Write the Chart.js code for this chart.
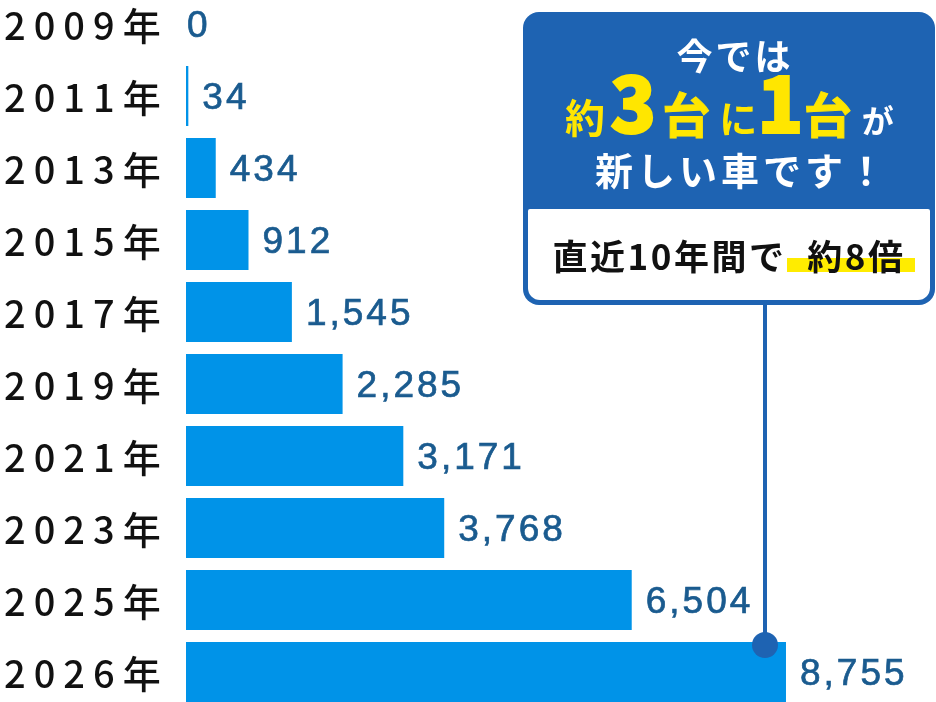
<!DOCTYPE html>
<html lang="ja">
<head>
<meta charset="utf-8">
<script src="https://cdn.jsdelivr.net/npm/chart.js@4"></script>
<style>
  html, body { margin: 0; padding: 0; background: #fff; }
  body { width: 936px; height: 702px; overflow: hidden; position: relative; font-family: "Noto Sans CJK JP", sans-serif; }
  #wrap { position: absolute; left: 0; top: -12px; width: 936px; height: 720px; }
  #callout { position: absolute; left: 523px; top: 12px; width: 412px; height: 293px; background: #1e63b2; border-radius: 16px; }
  #callout .line { position: absolute; left: 0; width: 100%; text-align: center; line-height: 1; font-weight: 700; white-space: nowrap; box-sizing: border-box; }
  #l1 { top: 24px; font-size: 36px; color: #fff; letter-spacing: 3px; padding-left: 12px; }
  #l2 { top: 50px; display: flex; align-items: baseline; padding-left: 42px; color: #ffe600; }
  #l2 span { line-height: 1; }
  #l2 .yaku { font-size: 40px; }
  #l2 .big { font-size: 76px; font-weight: 900; -webkit-text-stroke: 2px #ffe600; }
  #l2 .dai { font-size: 48px; -webkit-text-stroke: 1px #ffe600; }
  #l2 .ni { font-size: 38px; }
  #l2 .ga { font-size: 32px; color: #fff; }
  #l3 { top: 138px; font-size: 38px; color: #fff; letter-spacing: 4px; padding-left: 26px; }
  #inner { position: absolute; left: 5px; right: 5px; top: 197px; bottom: 5px; background: #fff; border-radius: 2px 2px 12px 12px; }
  #hl { position: absolute; left: 259px; top: 49px; width: 128px; height: 14px; background: #ffec00; }
  #l4 { position: absolute; left: 0; width: 100%; top: 28px; text-align: center; font-size: 35px; font-weight: 700; color: #111; line-height: 1; letter-spacing: 2.5px; white-space: nowrap; }
  #stem { position: absolute; left: 763px; top: 303px; width: 4px; height: 340px; background: #1e63b2; }
  #dot { position: absolute; left: 752px; top: 632px; width: 26px; height: 26px; border-radius: 50%; background: #1e63b2; }
</style>
</head>
<body>
<div id="wrap"><canvas id="chart"></canvas></div>
<div id="stem"></div>
<div id="dot"></div>
<div id="callout">
  <div class="line" id="l1">今では</div>
  <div class="line" id="l2"><span class="yaku">約</span><span class="big" style="margin-left:5px">3</span><span class="dai" style="margin-left:6px">台</span><span class="ni" style="margin-left:9px">に</span><span class="big">1</span><span class="dai">台</span><span class="ga" style="margin-left:10px">が</span></div>
  <div class="line" id="l3">新しい車です！</div>
  <div id="inner">
    <div id="hl"></div>
    <div id="l4">直近10年間で&nbsp;&nbsp;約8倍</div>
  </div>
</div>
<script>
(function () {
  'use strict';

  var years = ['2009年', '2011年', '2013年', '2015年', '2017年', '2019年', '2021年', '2023年', '2025年', '2026年'];
  var counts = [0, 34, 434, 912, 1545, 2285, 3171, 3768, 6504, 8755];
  var axisMax = 10944;

  // year labels on the left and value labels at the end of each bar
  var rowLabels = {
    id: 'rowLabels',
    afterDatasetsDraw: function (chart) {
      var ctx = chart.ctx;
      var meta = chart.getDatasetMeta(0);
      var yScale = chart.scales.y;
      ctx.save();
      ctx.textAlign = 'left';
      for (var i = 0; i < years.length; i++) {
        var y = yScale.getPixelForValue(i);
        ctx.textBaseline = 'middle';
        ctx.font = '500 38px "Noto Sans CJK JP"';
        ctx.letterSpacing = '8px';
        ctx.fillStyle = '#111';
        ctx.fillText(years[i], 4, y + 2);

        var bar = meta.data[i];
        var gap = counts[i] === 0 ? 1 : 14;
        var txt = counts[i].toLocaleString('en-US');
        ctx.textBaseline = 'alphabetic';
        ctx.font = '37px "Liberation Sans"';
        ctx.letterSpacing = '3px';
        ctx.fillStyle = '#1a5b8f';
        ctx.strokeStyle = '#1a5b8f';
        ctx.lineWidth = 0.7;
        ctx.fillText(txt, bar.x + gap, y + 12.5);
        ctx.strokeText(txt, bar.x + gap, y + 12.5);
      }
      ctx.restore();
    }
  };

  new Chart(document.getElementById('chart'), {
    type: 'bar',
    data: {
      labels: years,
      datasets: [{
        data: counts,
        backgroundColor: '#0093e8',
        borderWidth: 0,
        barPercentage: 0.833,
        categoryPercentage: 1
      }]
    },
    options: {
      indexAxis: 'y',
      responsive: true,
      maintainAspectRatio: false,
      animation: false,
      layout: { padding: { left: 186, right: 0, top: 0, bottom: 0 } },
      plugins: { legend: { display: false }, tooltip: { enabled: false } },
      scales: {
        x: { display: false, min: 0, max: axisMax },
        y: { display: false }
      }
    },
    plugins: [rowLabels]
  });
})();
</script>
</body>
</html>
